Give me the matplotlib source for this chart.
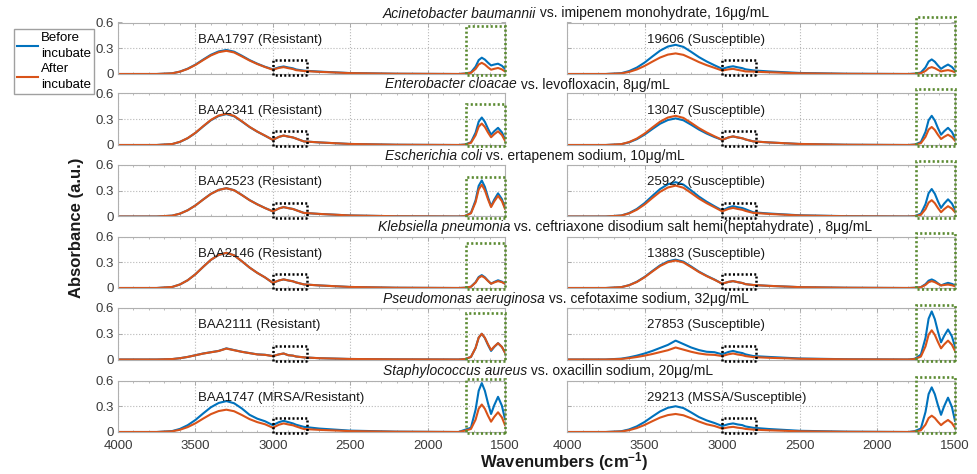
import matplotlib
matplotlib.use("Agg")
import matplotlib.pyplot as plt
from matplotlib.patches import Rectangle
from matplotlib.lines import Line2D
from matplotlib.ticker import MultipleLocator

plt.rcParams['font.family'] = ['Liberation Sans', 'DejaVu Sans']
plt.rcParams['mathtext.fontset'] = 'custom'
plt.rcParams['mathtext.rm'] = 'Liberation Sans'
plt.rcParams['mathtext.it'] = 'Liberation Sans:italic'
plt.rcParams['mathtext.bf'] = 'Liberation Sans:bold'

# ---------------- data ----------------
wavenumbers = [4000, 3750, 3650, 3600, 3550, 3500, 3450, 3400, 3350, 3300, 3250, 3200, 3150, 3100, 3050,
               3000, 2960, 2930, 2900, 2870, 2850, 2800, 2700, 2500, 2200, 1800,
               1760, 1720, 1690, 1670, 1650, 1630, 1610, 1590, 1570, 1545, 1520, 1500]

acin_res_before = [0, 0, .008, .028, .062, .109, .168, .224, .263, .28, .26, .213, .162, .12, .084,
                   .055, .078, .088, .076, .066, .053, .039, .028, .011, .003, 0,
                   .005, .019, .086, .162, .19, .168, .132, .10, .11, .12, .096, .06]
acin_res_after = [0, 0, .008, .027, .059, .105, .162, .216, .254, .27, .251, .205, .157, .116, .081,
                  .05, .071, .08, .068, .058, .045, .035, .025, .01, .003, 0,
                  .004, .013, .059, .111, .13, .11, .078, .05, .06, .07, .054, .03]
acin_sus_before = [0, 0, .010, .034, .075, .133, .204, .272, .320, .34, .316, .258, .197, .146, .102,
                   .06, .081, .09, .078, .068, .055, .042, .03, .012, .003, 0,
                   .004, .017, .077, .145, .17, .143, .099, .06, .085, .11, .082, .04]
acin_sus_after = [0, 0, .007, .024, .053, .094, .144, .192, .226, .24, .223, .182, .139, .103, .072,
                  .04, .054, .06, .048, .038, .03, .028, .02, .008, .002, 0,
                  .002, .008, .036, .068, .08, .068, .048, .03, .038, .045, .035, .02]

ent_res_before = [0, 0, .011, .036, .079, .140, .216, .288, .338, .36, .335, .274, .209, .155, .108,
                  .06, .095, .11, .098, .088, .075, .042, .03, .012, .003, 0,
                  .005, .032, .144, .272, .32, .27, .19, .12, .16, .20, .148, .07]
ent_res_after = [0, 0, .011, .037, .080, .142, .219, .292, .343, .365, .339, .277, .211, .156, .109,
                 .06, .095, .11, .098, .088, .075, .042, .03, .012, .003, 0,
                 .004, .025, .113, .213, .25, .21, .146, .09, .125, .16, .116, .05]
ent_sus_before = [0, 0, .009, .031, .068, .121, .186, .248, .291, .31, .288, .236, .180, .133, .093,
                  .06, .088, .10, .088, .078, .065, .042, .03, .012, .003, 0,
                  .005, .034, .153, .289, .34, .285, .197, .12, .16, .20, .152, .08]
ent_sus_after = [0, 0, .010, .034, .075, .133, .204, .272, .320, .34, .316, .258, .197, .146, .102,
                 .06, .088, .10, .088, .078, .065, .042, .03, .012, .003, 0,
                 .004, .021, .095, .179, .21, .175, .119, .07, .095, .12, .092, .05]

ecoli_res_before = [0, 0, .010, .033, .073, .129, .198, .264, .310, .33, .307, .251, .191, .142, .099,
                    .06, .095, .11, .098, .088, .075, .042, .03, .012, .003, 0,
                    .006, .042, .189, .357, .42, .345, .225, .12, .195, .27, .202, .10]
ecoli_res_after = [0, 0, .010, .033, .072, .128, .197, .263, .309, .329, .306, .250, .190, .141, .098,
                   .06, .094, .109, .097, .087, .074, .042, .03, .012, .003, 0,
                   .005, .037, .167, .315, .37, .305, .201, .11, .175, .24, .18, .09]
ecoli_sus_before = [0, 0, .012, .040, .088, .156, .240, .320, .376, .40, .372, .304, .232, .172, .120,
                    .07, .105, .12, .108, .098, .085, .049, .035, .014, .004, 0,
                    .005, .032, .144, .272, .32, .265, .177, .10, .15, .20, .152, .08]
ecoli_sus_after = [0, 0, .011, .036, .079, .140, .216, .288, .338, .36, .335, .274, .209, .155, .108,
                   .06, .088, .10, .088, .078, .065, .042, .03, .012, .003, 0,
                   .004, .019, .086, .162, .19, .155, .099, .05, .085, .12, .092, .05]

kleb_res_before = [0, 0, .012, .041, .090, .160, .246, .328, .385, .41, .381, .312, .238, .176, .123,
                   .06, .088, .10, .088, .078, .065, .042, .03, .012, .003, 0,
                   .003, .015, .068, .128, .15, .125, .085, .05, .07, .09, .074, .05]
kleb_res_after = [0, 0, .012, .041, .090, .160, .246, .328, .385, .41, .381, .312, .238, .176, .123,
                  .06, .088, .10, .088, .078, .065, .042, .03, .012, .003, 0,
                  .003, .014, .063, .119, .14, .118, .082, .05, .065, .08, .068, .05]
kleb_sus_before = [0, 0, .010, .033, .073, .129, .198, .264, .310, .33, .307, .251, .191, .142, .099,
                   .05, .071, .08, .068, .058, .045, .035, .025, .01, .003, 0,
                   .003, .010, .045, .085, .10, .083, .055, .03, .045, .06, .048, .03]
kleb_sus_after = [0, 0, .010, .032, .070, .125, .192, .256, .301, .32, .298, .243, .186, .138, .096,
                  .05, .071, .08, .068, .058, .045, .035, .025, .01, .003, 0,
                  .002, .008, .036, .068, .08, .068, .048, .03, .035, .04, .032, .02]

pseu_res_before = [0, 0, .005, .015, .03, .05, .07, .085, .10, .13, .11, .09, .075, .06, .055,
                   .04, .06, .07, .05, .045, .035, .025, .015, .006, .002, 0,
                   .004, .030, .135, .255, .30, .25, .17, .10, .145, .19, .146, .08]
pseu_res_after = [0, 0, .005, .015, .03, .049, .069, .084, .099, .127, .108, .089, .074, .059, .054,
                  .04, .06, .07, .05, .045, .035, .025, .015, .006, .002, 0,
                  .004, .030, .135, .255, .30, .253, .177, .11, .15, .19, .146, .08]
pseu_sus_before = [0, 0, .01, .025, .045, .07, .10, .135, .17, .22, .18, .14, .11, .09, .085,
                   .06, .088, .10, .085, .075, .06, .04, .03, .012, .003, 0,
                   .008, .056, .252, .476, .56, .47, .326, .20, .275, .35, .27, .15]
pseu_sus_after = [0, 0, .006, .016, .029, .045, .064, .086, .108, .14, .115, .09, .07, .058, .054,
                  .04, .061, .07, .058, .05, .04, .028, .02, .008, .002, 0,
                  .005, .034, .153, .289, .34, .287, .204, .13, .175, .22, .172, .10]

staph_res_before = [0, 0, .011, .036, .079, .140, .216, .288, .338, .36, .335, .274, .20, .155, .125,
                    .08, .115, .13, .115, .10, .085, .06, .04, .016, .004, 0,
                    .025, .05, .26, .48, .57, .48, .336, .21, .31, .41, .306, .15]
staph_res_after = [0, 0, .008, .026, .057, .101, .156, .208, .244, .26, .242, .198, .15, .115, .09,
                   .05, .085, .10, .088, .078, .065, .035, .025, .01, .003, 0,
                   .015, .035, .144, .272, .32, .27, .19, .12, .175, .23, .17, .08]
staph_sus_before = [0, 0, .009, .03, .066, .117, .18, .24, .282, .30, .279, .228, .174, .135, .105,
                    .07, .091, .10, .088, .08, .065, .049, .035, .014, .004, 0,
                    .01, .04, .234, .442, .52, .44, .312, .20, .30, .40, .292, .13]
staph_sus_after = [0, 0, .006, .021, .046, .082, .126, .168, .197, .21, .195, .160, .122, .09, .07,
                   .04, .054, .06, .05, .044, .036, .028, .02, .008, .002, 0,
                   .005, .019, .086, .162, .19, .163, .119, .08, .11, .14, .104, .05]

species = ["Acinetobacter baumannii", "Enterobacter cloacae", "Escherichia coli",
           "Klebsiella pneumonia", "Pseudomonas aeruginosa", "Staphylococcus aureus"]
drugs = [" vs. imipenem monohydrate, 16\u03bcg/mL", " vs. levofloxacin, 8\u03bcg/mL",
         " vs. ertapenem sodium, 10\u03bcg/mL",
         " vs. ceftriaxone disodium salt hemi(heptahydrate) , 8\u03bcg/mL",
         " vs. cefotaxime sodium, 32\u03bcg/mL", " vs. oxacillin sodium, 20\u03bcg/mL"]
resistant_labels = ["BAA1797 (Resistant)", "BAA2341 (Resistant)", "BAA2523 (Resistant)",
                    "BAA2146 (Resistant)", "BAA2111 (Resistant)", "BAA1747 (MRSA/Resistant)"]
susceptible_labels = ["19606 (Susceptible)", "13047 (Susceptible)", "25922 (Susceptible)",
                      "13883 (Susceptible)", "27853 (Susceptible)", "29213 (MSSA/Susceptible)"]

before_series = [(acin_res_before, acin_sus_before), (ent_res_before, ent_sus_before),
                 (ecoli_res_before, ecoli_sus_before), (kleb_res_before, kleb_sus_before),
                 (pseu_res_before, pseu_sus_before), (staph_res_before, staph_sus_before)]
after_series = [(acin_res_after, acin_sus_after), (ent_res_after, ent_sus_after),
                (ecoli_res_after, ecoli_sus_after), (kleb_res_after, kleb_sus_after),
                (pseu_res_after, pseu_sus_after), (staph_res_after, staph_sus_after)]

xticks = [4000, 3500, 3000, 2500, 2000, 1500]
yticks = [0, 0.3, 0.6]
ytick_labels = ["0", "0.3", "0.6"]

# ---------------- layout ----------------
W, H = 978, 474
BLUE = '#0072BD'
ORANGE = '#D95319'
GREEN = '#5a8a30'
row_tops = [22.5, 93.5, 165, 236.5, 308, 380.5]
row_h = 51.5
col_x = [(118, 505), (567, 955)]
title_x = [383, 385, 385, 378, 383, 383]
green_top = [[0.56, 0.48, 0.46, 0.52, 0.54, 0.62],
             [0.66, 0.65, 0.65, 0.645, 0.635, 0.645]]

fig = plt.figure(figsize=(W / 100, H / 100), dpi=100)
renderer = fig.canvas.get_renderer()

dot = (0, (0.8, 0.9))
for r in range(6):
    top = row_tops[r]
    for c in range(2):
        x0, x1 = col_x[c]
        ax = fig.add_axes([x0 / W, 1 - (top + row_h) / H, (x1 - x0) / W, row_h / H])
        ax.plot(wavenumbers, before_series[r][c], color=BLUE, lw=1.5, solid_joinstyle='round')
        ax.plot(wavenumbers, after_series[r][c], color=ORANGE, lw=1.5, solid_joinstyle='round')
        ax.set_xlim(4000, 1500)
        ax.set_ylim(0, 0.6)
        ax.set_xticks(xticks)
        ax.xaxis.set_minor_locator(MultipleLocator(100))
        ax.set_yticks(yticks)
        ax.grid(True, which='major', linestyle=':', color='#b8b8b8', linewidth=0.8)
        ax.tick_params(which='both', direction='in', top=True, right=True,
                       color='#a0a0a0', labelsize=9.5, labelcolor='#3a3a3a')
        ax.tick_params(axis='y', pad=3)
        ax.tick_params(axis='x', pad=6)
        ax.tick_params(which='major', length=3, width=0.6)
        ax.tick_params(which='minor', length=1.6, width=0.5)
        for s in ax.spines.values():
            s.set_color('#b0b0b0')
            s.set_linewidth(0.8)
        if c == 0:
            ax.set_yticklabels(ytick_labels)
        else:
            ax.set_yticklabels([])
        if r == 5:
            ax.set_xticklabels([str(v) for v in xticks])
        else:
            ax.set_xticklabels([])
        label = resistant_labels[r] if c == 0 else susceptible_labels[r]
        ax.text(3485, 0.4, label, ha='left', va='center', fontsize=9.5, color='#1a1a1a')
        ax.add_patch(Rectangle((2780, -0.015), 220, 0.175, fill=False, ec='black',
                               ls=dot, lw=1.8, clip_on=False, zorder=5))
        gt = green_top[c][r]
        ax.add_patch(Rectangle((1500, -0.015), 250, gt + 0.015, fill=False, ec=GREEN,
                               ls=dot, lw=1.9, clip_on=False, zorder=5))
    # row title: italic species + normal remainder
    ty = 1 - (top - 5) / H
    t1 = fig.text(title_x[r] / W, ty, species[r], style='italic', fontsize=10,
                  ha='left', va='baseline', color='#1a1a1a')
    bb = t1.get_window_extent(renderer)
    fig.text(bb.x1 / W, ty, drugs[r], fontsize=10, ha='left', va='baseline', color='#1a1a1a')

handles = [Line2D([], [], color=BLUE, lw=1.5), Line2D([], [], color=ORANGE, lw=1.5)]
leg = fig.legend(handles, ["Before\nincubate", "After\nincubate"], loc='upper left',
                 bbox_to_anchor=(14 / W, 1 - 29 / H), frameon=True, fancybox=False,
                 edgecolor='#a0a0a0', fontsize=9.5, handlelength=1.6, handletextpad=0.2,
                 borderpad=0.25, labelspacing=0.2, borderaxespad=0, framealpha=1)
for t in leg.get_texts():
    t.set_linespacing(1.45)

fig.text(77 / W, 1 - 228 / H, "Absorbance (a.u.)", rotation=90, fontweight='bold',
         fontsize=12, ha='center', va='center', color='#1a1a1a')
fig.text(564 / W, 1 - 462 / H, r"Wavenumbers (cm$^{\mathbf{-1}}$)", fontweight='bold',
         fontsize=12, ha='center', va='center', color='#1a1a1a')

fig.savefig("out.png", dpi=100)
